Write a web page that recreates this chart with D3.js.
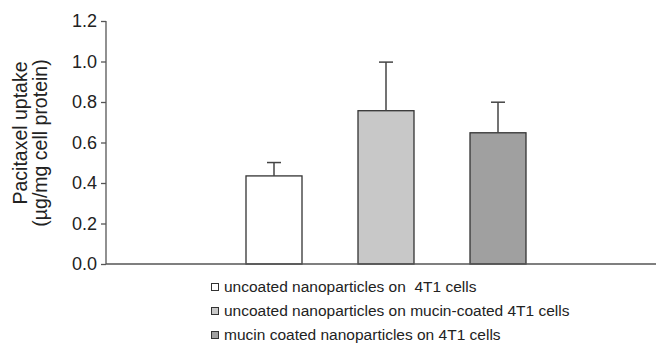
<!DOCTYPE html>
<html>
<head>
<meta charset="utf-8">
<script src="https://cdn.jsdelivr.net/npm/d3@7"></script>
<style>
  html, body { margin: 0; padding: 0; background: #fff; }
  svg { display: block; font-family: "Liberation Sans", Arial, sans-serif; }
</style>
</head>
<body>
<svg id="chart" width="665" height="344"></svg>
<script>
// Paclitaxel uptake per treatment group (mean and standard deviation)
const groups = [
  "uncoated nanoparticles on  4T1 cells",
  "uncoated nanoparticles on mucin-coated 4T1 cells",
  "mucin coated nanoparticles on 4T1 cells"
];
const means = [0.435, 0.757, 0.648];
const errors = [0.066, 0.24, 0.151];
const fills = ["#ffffff", "#c8c8c8", "#a0a0a0"];
const yTicks = [0, 0.2, 0.4, 0.6, 0.8, 1.0, 1.2];

const svg = d3.select("#chart");
const axisX = 106, axisRight = 656;
const yTop = 21, yBottom = 264;

const y = d3.scaleLinear().domain([0, 1.2]).range([yBottom, yTop]);
const x = d3.scaleBand().domain(groups).range([218, 554])
  .paddingInner(0.5).paddingOuter(0.25);

// Bars
svg.append("g").selectAll("rect").data(groups).join("rect")
  .attr("x", d => x(d))
  .attr("y", (d, i) => y(means[i]))
  .attr("width", x.bandwidth())
  .attr("height", (d, i) => y(0) - y(means[i]))
  .attr("fill", (d, i) => fills[i])
  .attr("stroke", "#333")
  .attr("stroke-width", 1.3);

// Error bars (upper half only)
const eb = svg.append("g").attr("stroke", "#444").attr("stroke-width", 1.5);
groups.forEach((g, i) => {
  const cx = x(g) + x.bandwidth() / 2;
  eb.append("line").attr("x1", cx).attr("x2", cx)
    .attr("y1", y(means[i])).attr("y2", y(means[i] + errors[i]));
  eb.append("line").attr("x1", cx - 7).attr("x2", cx + 7)
    .attr("y1", y(means[i] + errors[i])).attr("y2", y(means[i] + errors[i]));
});

// Y axis
const yAxis = d3.axisLeft(y).tickValues(yTicks).tickFormat(d3.format(".1f"))
  .tickSize(5).tickSizeOuter(0).tickPadding(4);
const ya = svg.append("g").attr("transform", `translate(${axisX},0)`).call(yAxis);
ya.selectAll("path, line").attr("stroke", "#555").attr("stroke-width", 1.3);
ya.select(".domain").attr("d", `M0,${y(1.2)}V${yBottom}`);
ya.selectAll("text").attr("font-size", 18).attr("fill", "#222")
  .attr("font-family", "Liberation Sans, Arial, sans-serif");

// X axis baseline
svg.append("line").attr("x1", axisX).attr("x2", axisRight)
  .attr("y1", yBottom).attr("y2", yBottom)
  .attr("stroke", "#555").attr("stroke-width", 1.3);

// Y axis title
const title = svg.append("text")
  .attr("transform", "translate(0,135) rotate(-90)")
  .attr("text-anchor", "middle")
  .attr("font-size", 19.5).attr("fill", "#222");
title.append("tspan").attr("x", 2).attr("y", 27).text("Pacitaxel uptake");
title.append("tspan").attr("x", -8).attr("y", 47).text("(µg/mg cell protein)");

// Legend
const legend = svg.append("g");
groups.forEach((g, i) => {
  const ly = 287 + i * 24;
  legend.append("rect").attr("x", 211.5).attr("y", ly - 3.5).attr("width", 7).attr("height", 7)
    .attr("fill", fills[i]).attr("stroke", "#333").attr("stroke-width", 1);
  legend.append("text").attr("x", 224).attr("y", ly + 5)
    .attr("font-size", 15.5).attr("fill", "#222")
    .attr("xml:space", "preserve").style("white-space", "pre")
    .text(g);
});
</script>
</body>
</html>
